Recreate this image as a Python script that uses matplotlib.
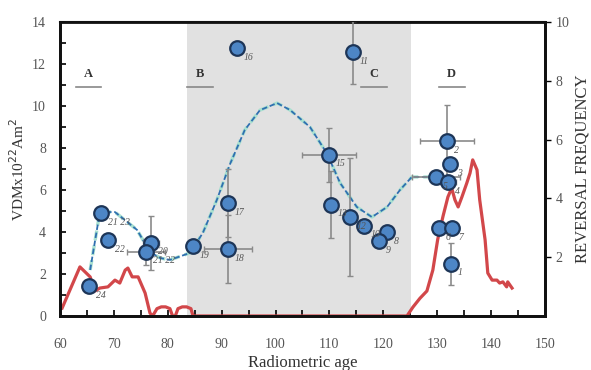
import matplotlib
matplotlib.use("Agg")
import matplotlib.pyplot as plt
from matplotlib.ticker import MultipleLocator

plt.rcParams['font.family'] = ['Liberation Serif', 'DejaVu Serif']

# VDM data points (age, VDM)
pt_x = [92.8, 114.4, 67.6, 68.9, 76.9, 76.0, 84.7, 91.2, 91.2, 65.4,
        109.9, 110.3, 113.8, 116.4, 120.7, 119.2,
        131.8, 132.4, 129.8, 132.0, 130.3, 132.7, 132.6]
pt_y = [12.76, 12.57, 4.9, 3.62, 3.48, 3.05, 3.33, 3.19, 5.38, 1.43,
        7.67, 5.29, 4.71, 4.29, 4.0, 3.57,
        8.33, 7.24, 6.62, 6.38, 4.19, 4.19, 2.48]
pt_xerr = [0, 0, 0, 0, 1.5, 3.5, 0, 4.5, 0, 0,
           5.0, 0, 0, 0, 0, 0,
           5.0, 0, 4.5, 1.5, 0, 0, 0]
pt_yerr = [0, 1.5, 0, 0, 1.3, 0.6, 0, 1.6, 1.6, 0,
           1.3, 1.6, 2.8, 0, 0, 0,
           1.7, 0, 0, 0, 0, 0, 1.0]
pt_lab = ['16', '11', '21 23', '22', '20', '21 22', '19', '18', '17', '24',
          '15', '13', '12', '10', '8', '9',
          '2', '3', '5', '4', '6', '7', '1']

# dashed VDM trend curve
curve_x = [65.6, 67.4, 70.2, 74.3, 76.7, 78.6, 80.4, 84.1, 86.5, 89.1, 91.5,
           94.3, 97.1, 100.3, 102.7, 106.4, 109.5, 112.0, 115.1, 117.9,
           120.7, 123.1, 125.3, 129.2]
curve_y = [2.19, 4.95, 4.95, 4.10, 3.05, 2.76, 2.67, 3.0, 3.95, 5.52, 7.2,
           8.86, 9.8, 10.14, 9.81, 9.0, 7.76, 6.33, 5.19, 4.71,
           5.19, 6.0, 6.62, 6.62]

# reversal frequency curve
rf_x = [60.4, 63.7, 65.6, 66.5, 67.4, 68.9, 70.2, 71.1, 72.1, 72.6, 73.4, 74.5,
        75.8, 76.7, 77.2, 78.0, 78.8, 79.6, 80.4, 80.9, 81.4, 81.9, 82.7, 83.5,
        84.3, 84.7, 124.4, 125.5, 126.8, 128.1, 129.2, 130.1, 131.1, 132.0,
        132.7, 133.3, 133.9, 134.6, 135.5, 136.1, 136.6, 137.4, 137.9, 138.9,
        139.4, 140.2, 141.1, 141.6, 142.2, 142.9, 143.1, 143.9]
rf_y = [0.27, 1.67, 1.33, 0.85, 0.95, 0.99, 1.22, 1.12, 1.56, 1.63, 1.33, 1.33,
        0.78, 0.10, 0.0, 0.25, 0.31, 0.31, 0.25, 0.0, 0.0, 0.25, 0.31, 0.31,
        0.25, 0.0, 0.0, 0.30, 0.60, 0.85, 1.56, 2.6, 3.4, 4.05,
        4.35, 3.95, 3.71, 4.05, 4.52, 4.86, 5.31, 4.97, 3.95, 2.59,
        1.46, 1.22, 1.22, 1.12, 1.16, 0.99, 1.16, 0.95]

intervals = ['A', 'B', 'C', 'D']
int_x = [65.3, 86.0, 118.3, 132.7]

fig = plt.figure(figsize=(5.91, 3.70), dpi=100)
ax = fig.add_axes([0.1015, 0.146, 0.8205, 0.7945])
ax2 = ax.twinx()

# background span & reversal frequency on ax (right scale)
ax.axvspan(83.6, 125.2, color='#e1e1e1', zorder=0, lw=0)
ax.plot(rf_x, rf_y, color='#d2474a', lw=2.3, zorder=2)
ax.set_ylim(0, 10)
ax.set_xlim(60, 150)
ax.yaxis.tick_right()
ax.yaxis.set_label_position('right')
ax.set_ylabel('REVERSAL FREQUENCY', fontsize=12, color='#333333')
ax.set_yticks([2, 4, 6, 8, 10])
ax.tick_params(axis='y', direction='out', length=4, width=1, labelsize=10,
               labelcolor='#555555', right=True, left=False)

# VDM on ax2 (left scale)
ax2.yaxis.tick_left()
ax2.yaxis.set_label_position('left')
ax2.set_ylim(0, 14)
ax2.set_yticks(range(0, 15, 2))
ax2.yaxis.set_minor_locator(MultipleLocator(1))
ax2.tick_params(axis='y', which='both', direction='in', length=4, width=1.2,
                labelsize=10, labelcolor='#555555', left=True, right=False, pad=10)
ax2.set_ylabel(r'VDMx10$^{22}$Am$^{2}$', fontsize=11, color='#333333', labelpad=4)

ax2.plot(curve_x, curve_y, color='#a8e0d0', lw=2.4, ls=(0, (3, 1.5)), zorder=3)
ax2.plot(curve_x, curve_y, color='#2f6fb0', lw=1.3, ls=(0, (3, 1.5)), zorder=3)

for xi, yi, xe, ye in zip(pt_x, pt_y, pt_xerr, pt_yerr):
    if xe > 0 or ye > 0:
        ax2.errorbar(xi, yi, xerr=xe if xe > 0 else None, yerr=ye if ye > 0 else None,
                     fmt='none', ecolor='#8a8a8a', elinewidth=1.2, capsize=2, zorder=4)
ax2.plot(pt_x, pt_y, 'o', ms=10.5, mfc='#4d86c6', mec='#1d3557', mew=1.6, zorder=5,
         clip_on=False)
for xi, yi, lab in zip(pt_x, pt_y, pt_lab):
    ax2.text(xi + 1.3, yi - 0.55, lab, fontsize=7, style='italic', color='#555555',
             zorder=6)

for lab, xi in zip(intervals, int_x):
    ax2.text(xi, 11.25, lab, fontsize=9, fontweight='bold', ha='center', va='bottom',
             color='#333333')
    ax2.plot([xi - 2.4, xi + 2.4], [10.9, 10.9], color='#888888', lw=1.2)

ax.set_xticks(range(60, 151, 10))
ax.xaxis.set_minor_locator(MultipleLocator(5))
ax.tick_params(axis='x', which='both', direction='in', length=4, width=1.2,
               labelsize=10, labelcolor='#555555', pad=16)
ax.set_xlabel('Radiometric age', fontsize=12, color='#333333', labelpad=3)

for a in (ax, ax2):
    for s in a.spines.values():
        s.set_linewidth(2)
        s.set_color('#111111')
ax.spines['top'].set_linewidth(1.5)

fig.savefig('out.png', dpi=100)
